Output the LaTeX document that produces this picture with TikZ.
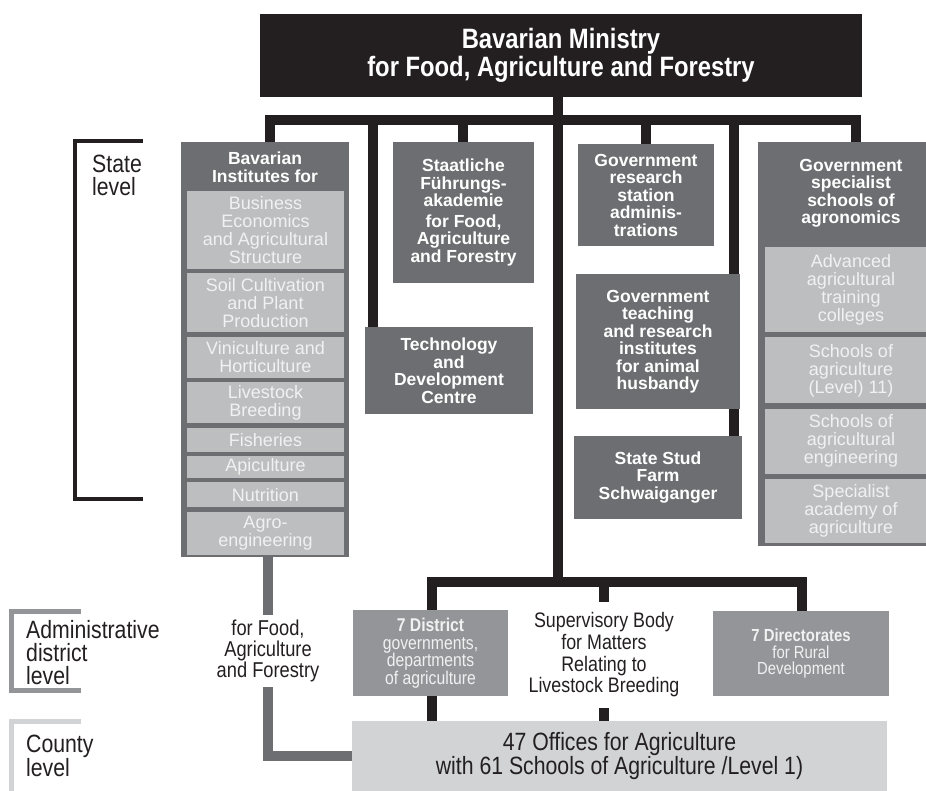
\documentclass[tikz,border=0pt]{standalone}
\usepackage{fontspec}
\setmainfont{Liberation Sans}
\newfontfamily\condfont{Liberation Sans}[FakeStretch=0.85]
\usepackage{tikz}
\usetikzlibrary{positioning}
\definecolor{cInk}{HTML}{231F20}
\definecolor{cDark}{HTML}{6D6E71}
\definecolor{cMid}{HTML}{939598}
\definecolor{cLight}{HTML}{BCBEC0}
\definecolor{cPale}{HTML}{D1D3D4}
\definecolor{cSoft}{HTML}{F1F1F2}
\newcommand{\fsz}[2]{\fontsize{#1}{#2}\selectfont}

\begin{document}
\begin{tikzpicture}[x=1pt, y=-1pt, node distance=4pt,
  box/.style={fill=#1, inner sep=0pt, align=center, text=white},
  head/.style={font=\bfseries\fsz{17.5}{17.5}},
  sub/.style={fill=cLight, inner sep=0pt, align=center, text=cSoft, font=\fsz{18}{18}, minimum width=#1},
  sub/.default=157pt,
  lvl/.style={anchor=west, inner sep=0pt, align=left, text=cInk, font=\condfont\fsz{25}{23}},
  link/.style={draw=cInk, line width=10pt},
  grey link/.style={draw=cDark, line width=10pt}]
  \useasboundingbox (0,0) rectangle (926,791);
  \clip (0,0) rectangle (926,791);
  % top
  \node[box=cInk, minimum width=602pt, minimum height=83pt, font=\condfont\bfseries\fsz{28}{28}] (ministry) at (561,55.5) {Bavarian Ministry\\for Food, Agriculture and Forestry};
  % state level
  \node[box=cDark, minimum width=168pt, minimum height=415pt] (inst) at (265,349.5) {};
  \node[head, text=white, align=center] (insthead) at (265,167) {Bavarian\\Institutes for};
  \node[sub, minimum height=78pt] (sb1) at (265.5,230) {Business\\Economics\\and Agricultural\\Structure};
  \node[sub, minimum height=59pt, below=of sb1] (sb2) {Soil Cultivation\\and Plant\\Production};
  \node[sub, minimum height=41pt, below=of sb2] (sb3) {Viniculture and\\Horticulture};
  \node[sub, minimum height=41pt, below=of sb3] (sb4) {Livestock\\Breeding};
  \node[sub, minimum height=24pt, below=of sb4] (sb5) {Fisheries};
  \node[sub, minimum height=22pt, below=of sb5] (sb6) {Apiculture};
  \node[sub, minimum height=25pt, below=of sb6] (sb7) {Nutrition};
  \node[sub, minimum height=43pt, below=of sb7] (sb8) {Agro-\\engineering};
  \node[box=cDark, head, minimum width=168pt, minimum height=87pt] (tech) at (449,370.5) {Technology\\and\\Development\\Centre};
  \node[box=cDark, head, minimum width=141pt, minimum height=141pt] (akad) at (463.5,212.5) {Staatliche\\Führungs-\\akademie\\[3pt]for Food,\\Agriculture\\and Forestry};
  \node[box=cDark, head, minimum width=136pt, minimum height=102pt] (resst) at (646,195) {Government\\research\\station\\adminis-\\trations};
  \node[box=cDark, head, minimum width=164pt, minimum height=135pt] (teach) at (658,341.5) {Government\\teaching\\and research\\institutes\\for animal\\husbandy};
  \node[box=cDark, head, minimum width=168pt, minimum height=83pt] (stud) at (658,477.5) {State Stud\\Farm\\Schwaiganger};
  \node[box=cDark, minimum width=186pt, minimum height=404pt] (spec) at (851,344) {};
  \node[head, text=white, align=center] (spechead) at (851,193) {Government\\specialist\\schools of\\agronomics};
  \node[sub=172pt, minimum height=85pt] (ss1) at (851,289.5) {Advanced\\agricultural\\training\\colleges};
  \node[sub=172pt, minimum height=66pt, below=5pt of ss1] (ss2) {Schools of\\agriculture\\(Level) 11)};
  \node[sub=172pt, minimum height=65pt, below=5pt of ss2] (ss3) {Schools of\\agricultural\\engineering};
  \node[sub=172pt, minimum height=64pt, below=5pt of ss3] (ss4) {Specialist\\academy of\\agriculture};
  % district and county level
  \node[box=cMid, text=cSoft, minimum width=155pt, minimum height=86pt, font=\condfont\fsz{18.5}{17.5}] (distr) at (430.5,653) {\textbf{7 District}\\governments,\\departments\\of agriculture};
  \node[inner sep=0pt, align=center, text=cInk, minimum height=106pt, font=\condfont\fsz{21}{21.7}] (superv) at (604,655) {Supervisory Body\\for Matters\\Relating to\\Livestock Breeding};
  \node[box=cMid, text=cSoft, minimum width=176pt, minimum height=85pt, font=\condfont\fsz{17.5}{16.7}] (direct) at (801,653.5) {\textbf{7 Directorates}\\for Rural\\Development};
  \node[box=cPale, text=cInk, minimum width=535pt, minimum height=70pt, font=\condfont\fsz{25}{22}] (offices) at (619.5,756) {47 Offices for Agriculture\\with 61 Schools of Agriculture /Level 1)};
  \node[inner sep=0pt, align=center, text=cInk, minimum height=72pt, font=\condfont\fsz{21.5}{21}] (forfood) at (268,651) {for Food,\\Agriculture\\and Forestry};
  % level labels
  \node[lvl] (statelbl) at (92,175) {State\\level};
  \node[lvl] (admlbl) at (26,653) {Administrative\\district\\level};
  \node[lvl] (cntylbl) at (26,756) {County\\level};
  \draw[cInk, line width=4pt] (143,141) -- (75,141) -- (75,499) -- (143,499);
  \draw[cMid, line width=5pt] (81,611.5) -- (11.5,611.5) -- (11.5,690) -- (81,690);
  \draw[cPale, line width=5pt] (81,721) -- (11.5,721) -- (11.5,800);
  % connectors
  \coordinate (jinst) at (270,120);
  \coordinate (jtech) at (373,120);
  \coordinate (jakad) at (463,120);
  \coordinate (jmain) at (558,120);
  \coordinate (jres) at (646,120);
  \coordinate (jteach) at (734,120);
  \coordinate (jspec) at (856,120);
  \coordinate (jdist) at (432,582);
  \coordinate (jlow) at (558,582);
  \coordinate (jsup) at (604,582);
  \coordinate (jdir) at (802,582);
  \draw[link, line cap=rect] (jinst) -- (jspec);
  \draw[link] (jmain |- ministry.south) -- (jlow);
  \draw[link] (jinst) -- (jinst |- inst.north);
  \draw[link] (jtech) -- (jtech |- tech.north);
  \draw[link] (jakad) -- (jakad |- akad.north);
  \draw[link] (jres) -- (jres |- resst.north);
  \draw[link] (jteach) -- (jteach |- teach.north);
  \draw[link] (jteach |- teach.south) -- (jteach |- stud.north);
  \draw[link] (jspec) -- (jspec |- spec.north);
  \draw[link, line cap=rect] (jdist) -- (jdir);
  \draw[link] (jdist) -- (jdist |- distr.north);
  \draw[link] (jdist |- distr.south) -- (jdist |- offices.north);
  \draw[link] (jsup) -- (superv.north);
  \draw[link] (superv.south) -- (superv.south |- offices.north);
  \draw[link] (jdir) -- (jdir |- direct.north);
  \draw[grey link] (forfood.north |- inst.south) -- (forfood.north);
  \draw[grey link] (forfood.south) |- (offices.west);
\end{tikzpicture}
\end{document}
